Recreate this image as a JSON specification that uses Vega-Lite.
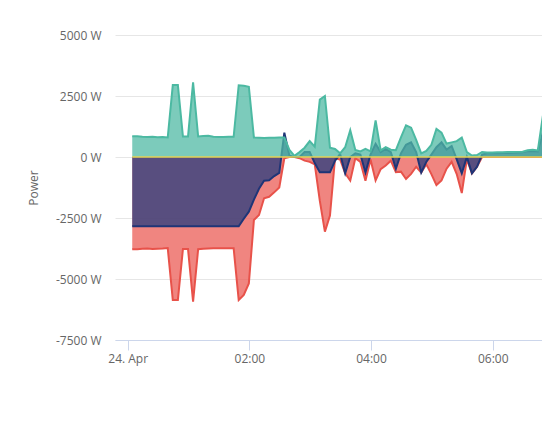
{
  "$schema": "https://vega.github.io/schema/vega-lite/v6.json",
  "width": 427,
  "height": 305,
  "autosize": {"type": "none"},
  "padding": {"left": 115, "top": 35, "right": 0, "bottom": 97},
  "config": {
    "font": "Open Sans",
    "view": {"stroke": null},
    "axis": {"labelColor": "#666666", "labelFontSize": 12, "titleColor": "#666666", "titleFontSize": 12, "titleFontWeight": "normal"}
  },
  "data": {
    "values": [
      {"t": "2023-04-24T00:04:30Z", "pv": 850, "bat": -2840, "grid": -3780, "load": 0},
      {"t": "2023-04-24T00:09:30Z", "pv": 850, "bat": -2840, "grid": -3780, "load": 0},
      {"t": "2023-04-24T00:14:30Z", "pv": 830, "bat": -2840, "grid": -3760, "load": 0},
      {"t": "2023-04-24T00:19:30Z", "pv": 820, "bat": -2840, "grid": -3750, "load": 0},
      {"t": "2023-04-24T00:24:30Z", "pv": 830, "bat": -2840, "grid": -3770, "load": 0},
      {"t": "2023-04-24T00:29:30Z", "pv": 810, "bat": -2840, "grid": -3760, "load": 0},
      {"t": "2023-04-24T00:34:30Z", "pv": 820, "bat": -2840, "grid": -3750, "load": 0},
      {"t": "2023-04-24T00:39:30Z", "pv": 800, "bat": -2840, "grid": -3730, "load": 0},
      {"t": "2023-04-24T00:44:30Z", "pv": 2950, "bat": -2840, "grid": -5860, "load": 0},
      {"t": "2023-04-24T00:49:30Z", "pv": 2950, "bat": -2840, "grid": -5860, "load": 0},
      {"t": "2023-04-24T00:54:30Z", "pv": 840, "bat": -2840, "grid": -3770, "load": 0},
      {"t": "2023-04-24T00:59:30Z", "pv": 840, "bat": -2840, "grid": -3770, "load": 0},
      {"t": "2023-04-24T01:04:30Z", "pv": 3060, "bat": -2840, "grid": -5930, "load": 0},
      {"t": "2023-04-24T01:09:30Z", "pv": 840, "bat": -2840, "grid": -3780, "load": 0},
      {"t": "2023-04-24T01:14:30Z", "pv": 860, "bat": -2840, "grid": -3760, "load": 0},
      {"t": "2023-04-24T01:19:30Z", "pv": 870, "bat": -2840, "grid": -3750, "load": 0},
      {"t": "2023-04-24T01:24:30Z", "pv": 830, "bat": -2840, "grid": -3740, "load": 0},
      {"t": "2023-04-24T01:29:30Z", "pv": 820, "bat": -2840, "grid": -3740, "load": 0},
      {"t": "2023-04-24T01:34:30Z", "pv": 820, "bat": -2840, "grid": -3740, "load": 0},
      {"t": "2023-04-24T01:39:30Z", "pv": 830, "bat": -2840, "grid": -3740, "load": 0},
      {"t": "2023-04-24T01:44:30Z", "pv": 830, "bat": -2840, "grid": -3740, "load": 0},
      {"t": "2023-04-24T01:49:30Z", "pv": 2940, "bat": -2840, "grid": -5860, "load": 0},
      {"t": "2023-04-24T01:54:30Z", "pv": 2920, "bat": -2530, "grid": -5650, "load": 0},
      {"t": "2023-04-24T01:59:30Z", "pv": 2880, "bat": -2240, "grid": -5180, "load": 0},
      {"t": "2023-04-24T02:04:30Z", "pv": 800, "bat": -1750, "grid": -2580, "load": 0},
      {"t": "2023-04-24T02:09:30Z", "pv": 790, "bat": -1300, "grid": -2380, "load": 0},
      {"t": "2023-04-24T02:14:30Z", "pv": 780, "bat": -970, "grid": -1690, "load": 0},
      {"t": "2023-04-24T02:19:30Z", "pv": 790, "bat": -950, "grid": -1630, "load": 0},
      {"t": "2023-04-24T02:24:30Z", "pv": 790, "bat": -780, "grid": -1450, "load": 0},
      {"t": "2023-04-24T02:29:30Z", "pv": 800, "bat": -650, "grid": -1250, "load": 0},
      {"t": "2023-04-24T02:34:30Z", "pv": 800, "bat": 1000, "grid": -50, "load": 0},
      {"t": "2023-04-24T02:39:30Z", "pv": 290, "bat": 50, "grid": 0, "load": 0},
      {"t": "2023-04-24T02:44:30Z", "pv": 50, "bat": 0, "grid": 0, "load": 0},
      {"t": "2023-04-24T02:49:30Z", "pv": 200, "bat": 0, "grid": -50, "load": 0},
      {"t": "2023-04-24T02:54:30Z", "pv": 380, "bat": 200, "grid": -150, "load": 0},
      {"t": "2023-04-24T02:59:30Z", "pv": 650, "bat": 200, "grid": -200, "load": 0},
      {"t": "2023-04-24T03:04:30Z", "pv": 420, "bat": -250, "grid": -300, "load": 0},
      {"t": "2023-04-24T03:09:30Z", "pv": 2350, "bat": -630, "grid": -1800, "load": 0},
      {"t": "2023-04-24T03:14:30Z", "pv": 2500, "bat": -630, "grid": -3060, "load": 0},
      {"t": "2023-04-24T03:19:30Z", "pv": 380, "bat": -630, "grid": -2400, "load": 0},
      {"t": "2023-04-24T03:24:30Z", "pv": 330, "bat": -150, "grid": -50, "load": 0},
      {"t": "2023-04-24T03:29:30Z", "pv": 150, "bat": 120, "grid": -100, "load": 0},
      {"t": "2023-04-24T03:34:30Z", "pv": 400, "bat": -670, "grid": -670, "load": 0},
      {"t": "2023-04-24T03:39:30Z", "pv": 1100, "bat": 0, "grid": -970, "load": 0},
      {"t": "2023-04-24T03:44:30Z", "pv": 290, "bat": 150, "grid": -50, "load": 0},
      {"t": "2023-04-24T03:49:30Z", "pv": 230, "bat": 100, "grid": -200, "load": 0},
      {"t": "2023-04-24T03:54:30Z", "pv": 330, "bat": -640, "grid": -970, "load": 0},
      {"t": "2023-04-24T03:59:30Z", "pv": 230, "bat": 100, "grid": -100, "load": 0},
      {"t": "2023-04-24T04:04:30Z", "pv": 1500, "bat": 540, "grid": -960, "load": 0},
      {"t": "2023-04-24T04:09:30Z", "pv": 270, "bat": 200, "grid": -500, "load": 0},
      {"t": "2023-04-24T04:14:30Z", "pv": 400, "bat": 330, "grid": -350, "load": 0},
      {"t": "2023-04-24T04:19:30Z", "pv": 300, "bat": 200, "grid": -150, "load": 0},
      {"t": "2023-04-24T04:24:30Z", "pv": 280, "bat": -480, "grid": -620, "load": 0},
      {"t": "2023-04-24T04:29:30Z", "pv": 800, "bat": 150, "grid": -600, "load": 0},
      {"t": "2023-04-24T04:34:30Z", "pv": 1300, "bat": 500, "grid": -900, "load": 0},
      {"t": "2023-04-24T04:39:30Z", "pv": 1200, "bat": 600, "grid": -690, "load": 0},
      {"t": "2023-04-24T04:44:30Z", "pv": 700, "bat": 200, "grid": -400, "load": 0},
      {"t": "2023-04-24T04:49:30Z", "pv": 150, "bat": -640, "grid": -640, "load": 0},
      {"t": "2023-04-24T04:54:30Z", "pv": 250, "bat": -200, "grid": -300, "load": 0},
      {"t": "2023-04-24T04:59:30Z", "pv": 500, "bat": 100, "grid": -700, "load": 0},
      {"t": "2023-04-24T05:04:30Z", "pv": 1150, "bat": 400, "grid": -1150, "load": 0},
      {"t": "2023-04-24T05:09:30Z", "pv": 1000, "bat": 600, "grid": -960, "load": 0},
      {"t": "2023-04-24T05:14:30Z", "pv": 550, "bat": 300, "grid": -480, "load": 0},
      {"t": "2023-04-24T05:19:30Z", "pv": 600, "bat": 450, "grid": -200, "load": 0},
      {"t": "2023-04-24T05:24:30Z", "pv": 650, "bat": -100, "grid": -700, "load": 0},
      {"t": "2023-04-24T05:29:30Z", "pv": 800, "bat": -670, "grid": -1480, "load": 0},
      {"t": "2023-04-24T05:34:30Z", "pv": 200, "bat": 0, "grid": -100, "load": 0},
      {"t": "2023-04-24T05:39:30Z", "pv": 60, "bat": -670, "grid": -670, "load": 0},
      {"t": "2023-04-24T05:44:30Z", "pv": 80, "bat": -400, "grid": -400, "load": 0},
      {"t": "2023-04-24T05:49:30Z", "pv": 200, "bat": 100, "grid": 0, "load": 0},
      {"t": "2023-04-24T05:54:30Z", "pv": 180, "bat": 150, "grid": 0, "load": 0},
      {"t": "2023-04-24T05:59:30Z", "pv": 180, "bat": 150, "grid": 0, "load": 0},
      {"t": "2023-04-24T06:04:30Z", "pv": 190, "bat": 150, "grid": 0, "load": 0},
      {"t": "2023-04-24T06:09:30Z", "pv": 190, "bat": 160, "grid": 0, "load": 0},
      {"t": "2023-04-24T06:14:30Z", "pv": 200, "bat": 160, "grid": 0, "load": 0},
      {"t": "2023-04-24T06:19:30Z", "pv": 200, "bat": 170, "grid": 0, "load": 0},
      {"t": "2023-04-24T06:24:30Z", "pv": 210, "bat": 180, "grid": 0, "load": 0},
      {"t": "2023-04-24T06:29:30Z", "pv": 220, "bat": 190, "grid": 0, "load": 0},
      {"t": "2023-04-24T06:34:30Z", "pv": 280, "bat": 240, "grid": 0, "load": 0},
      {"t": "2023-04-24T06:39:30Z", "pv": 300, "bat": 250, "grid": 0, "load": 0},
      {"t": "2023-04-24T06:44:30Z", "pv": 270, "bat": 230, "grid": 0, "load": 0},
      {"t": "2023-04-24T06:49:30Z", "pv": 1700, "bat": 1000, "grid": 0, "load": 0}
    ]
  },
  "encoding": {
    "x": {
      "field": "t",
      "type": "temporal",
      "title": null,
      "scale": {"type": "utc", "domain": [1682293650000, 1682318916000]},
      "axis": {
        "values": [1682294400000, 1682301600000, 1682308800000, 1682316000000],
        "labelExpr": "utchours(datum.value) == 0 ? utcFormat(datum.value, '%d. %b') : utcFormat(datum.value, '%H:%M')",
        "grid": false,
        "domainColor": "#ccd6eb",
        "tickColor": "#ccd6eb",
        "tickSize": 10,
        "labelPadding": 3,
        "labelFlush": false,
        "zindex": 1
      }
    }
  },
  "layer": [
    {
      "mark": {"type": "area", "color": "#eb5c56", "fillOpacity": 0.75, "clip": true},
      "encoding": {
        "y": {
          "field": "grid",
          "type": "quantitative",
          "title": "Power",
          "scale": {"domain": [-7500, 5000], "nice": false, "zero": false},
          "axis": {
            "values": [-7500, -5000, -2500, 0, 2500, 5000],
            "labelExpr": "datum.value + ' W'",
            "domain": false,
            "ticks": false,
            "gridColor": "#e6e6e6",
            "labelPadding": 14,
            "titlePadding": 15
          }
        }
      }
    },
    {
      "mark": {"type": "line", "color": "#e8524a", "strokeWidth": 2, "clip": true},
      "encoding": {"y": {"field": "grid", "type": "quantitative", "title": "Power"}}
    },
    {
      "mark": {"type": "area", "color": "#253c7f", "fillOpacity": 0.75, "clip": true},
      "encoding": {"y": {"field": "bat", "type": "quantitative", "title": "Power"}}
    },
    {
      "mark": {"type": "line", "color": "#1f3577", "strokeWidth": 2, "clip": true},
      "encoding": {"y": {"field": "bat", "type": "quantitative", "title": "Power"}}
    },
    {
      "mark": {"type": "area", "color": "#50baa4", "fillOpacity": 0.75, "clip": true},
      "encoding": {"y": {"field": "pv", "type": "quantitative", "title": "Power"}}
    },
    {
      "mark": {"type": "line", "color": "#4cb9a2", "strokeWidth": 2, "clip": true},
      "encoding": {"y": {"field": "pv", "type": "quantitative", "title": "Power"}}
    },
    {
      "mark": {"type": "line", "color": "#e4d354", "strokeWidth": 1.5, "clip": true},
      "encoding": {"y": {"field": "load", "type": "quantitative", "title": "Power"}}
    }
  ]
}
